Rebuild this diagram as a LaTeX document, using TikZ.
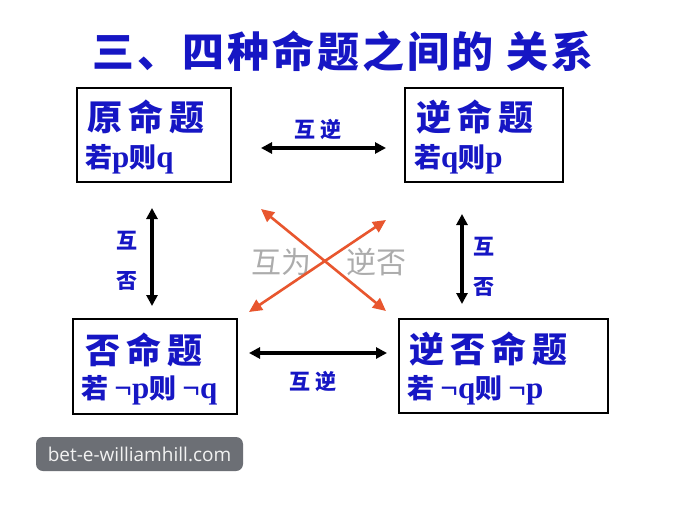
\documentclass[tikz,border=0pt]{standalone}
\usepackage{fontspec}
\setmainfont{Liberation Serif}
\newfontfamily\cjk{Noto Sans CJK SC}
\newfontfamily\wmfont{Open Sans}
\usepackage{xcolor}
\usepackage{tikz}
\usetikzlibrary{arrows.meta,positioning}
\definecolor{tblue}{RGB}{22,22,196}
\definecolor{xred}{RGB}{232,86,46}
\definecolor{wmgray}{RGB}{108,111,117}
\newcommand\ltr[1]{{\rmfamily\bfseries\fontsize{31}{31}\selectfont #1}}

\begin{document}
\begin{tikzpicture}[x=1pt,y=-1pt,>={Triangle[length=11pt,width=11pt]},
  box/.style={draw,line width=2pt,inner sep=0pt,minimum height=94pt},
  head/.style={anchor=west,inner sep=0pt,text=tblue,
    font=\cjk\bfseries\fontsize{35}{35}\selectfont\addfontfeature{LetterSpace=17}},
  cond/.style={anchor=west,inner sep=0pt,text=tblue,
    font=\cjk\bfseries\fontsize{27}{27}\selectfont},
  lbl/.style={inner sep=0pt,text=tblue,align=center,
    font=\cjk\bfseries\fontsize{21}{40}\selectfont\addfontfeature{LetterSpace=20}},
  blk/.style={<->,line width=3.2pt},
  rd/.style={<->,line width=2.6pt,draw=xred,>={Triangle[length=13pt,width=12pt]}},
  gry/.style={inner sep=0pt,text=gray!65,font=\cjk\fontsize{30}{30}\selectfont},
  wm/.style={fill=wmgray,rounded corners=7pt,minimum width=207pt,minimum height=34pt,
    inner sep=0pt,text=white!90!gray,font=\wmfont\fontsize{19}{19}\selectfont}]
  \fill[white] (0,0) rectangle (675,506);
  \useasboundingbox (0,0) rectangle (675,506);

  \node[inner sep=0pt,text=tblue,
    font=\cjk\bfseries\fontsize{42}{42}\selectfont\addfontfeature{LetterSpace=7}]
    (title) at (343,51) {三、四种命题之间的 关系};

  \node[box,minimum width=154pt] (orig) at (154,135) {};
  \node[box,minimum width=158pt] (conv) at (484,135) {};
  \node[box,minimum width=164pt,minimum height=95pt] (neg) at (155,366.5) {};
  \node[box,minimum width=209pt] (contra) at (503.5,366) {};

  \node[head] (origH) at ([xshift=11pt,yshift=-30pt]orig.north west) {原命题};
  \node[cond] (origC) at ([xshift=9pt,yshift=-72pt]orig.north west) {若\ltr{p}则\ltr{q}};
  \node[head] (convH) at ([xshift=12pt,yshift=-30pt]conv.north west) {逆命题};
  \node[cond] (convC) at ([xshift=10pt,yshift=-72pt]conv.north west) {若\ltr{q}则\ltr{p}};
  \node[head] (negH) at ([xshift=13pt,yshift=-32pt]neg.north west) {否命题};
  \node[cond] (negC) at ([xshift=9pt,yshift=-72pt]neg.north west) {若 \ltr{¬p}则 \ltr{¬q}};
  \node[head] (contraH) at ([xshift=11pt,yshift=-31pt]contra.north west) {逆否命题};
  \node[cond] (contraC) at ([xshift=9pt,yshift=-72pt]contra.north west) {若 \ltr{¬q}则 \ltr{¬p}};

  \draw[blk,shorten <=29pt,shorten >=18pt] ([yshift=-13pt]orig.east)
    -- node[lbl,above=7pt] (lblT) {互逆} ([yshift=-13pt]conv.west);
  \draw[blk,shorten <=11pt,shorten >=11pt] ([yshift=13.5pt]neg.east)
    -- node[lbl,below=17pt,xshift=-5pt] (lblB) {互逆} ([yshift=13pt]contra.west);
  \draw[blk,shorten <=25pt,shorten >=12pt] ([xshift=-2pt]orig.south)
    -- node[lbl,left=13pt,yshift=-10pt] (lblL) {互\\否} ([xshift=-3pt]neg.north);
  \draw[blk,shorten <=31pt,shorten >=14pt] ([xshift=-22pt]conv.south)
    -- node[lbl,right=10pt,yshift=-16.5pt] (lblR) {互\\否} ([xshift=-41.5pt]contra.north);

  \node[gry] (mutA) at (281,262) {互为};
  \node[gry] (mutB) at (376,262) {逆否};
  \draw[rd] ([xshift=29pt,yshift=-26pt]orig.south east) -- ([xshift=-12pt,yshift=7pt]contra.north west);
  \draw[rd] ([xshift=11pt,yshift=6pt]neg.north east) -- ([xshift=-18pt,yshift=-37pt]conv.south west);

  \node[wm] (mark) at (139.5,454) {bet-e-williamhill.com};
\end{tikzpicture}
\end{document}
